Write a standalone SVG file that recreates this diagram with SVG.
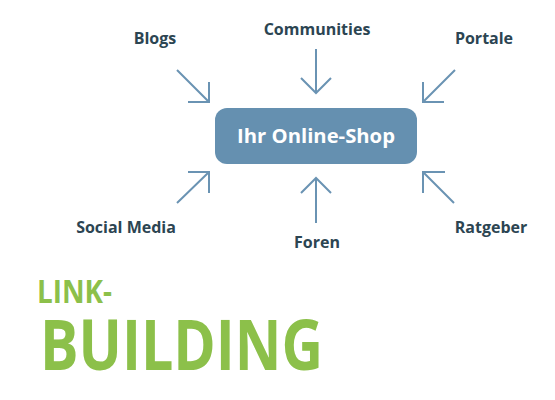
<svg xmlns="http://www.w3.org/2000/svg" width="555" height="400" viewBox="0 0 555 400">
<style>
.lbl{font-family:"Open Sans","Noto Sans",sans-serif;font-weight:700;font-size:16px;fill:#2c4552;text-anchor:middle}
.arr{fill:none;stroke:#6a93b3;stroke-width:2;stroke-linecap:butt;stroke-linejoin:miter}
.title{font-family:"Open Sans","Noto Sans",sans-serif;font-weight:700;fill:#8cc04a}
</style>
<rect width="555" height="400" fill="#ffffff"/>
<g id="shop">
<rect x="215" y="108" width="202" height="56" rx="12" ry="12" fill="#6590b0"/>
<text x="316" y="143" font-family="Open Sans,Noto Sans,sans-serif" font-weight="700" font-size="19" fill="#ffffff" text-anchor="middle" textLength="158" lengthAdjust="spacingAndGlyphs">Ihr Online-Shop</text>
</g>
<g id="blogs"><text class="lbl" x="155" y="44">Blogs</text></g>
<g id="communities"><text class="lbl" x="317" y="35">Communities</text></g>
<g id="portale"><text class="lbl" x="484" y="44">Portale</text></g>
<g id="socialmedia"><text class="lbl" x="126" y="233">Social Media</text></g>
<g id="foren"><text class="lbl" x="317" y="248">Foren</text></g>
<g id="ratgeber"><text class="lbl" x="491" y="233">Ratgeber</text></g>
<g id="connectors">
<path class="arr" d="M177,70 L209,102 M209,82 L209,102 L188,102"/>
<path class="arr" d="M316,49 L316,93 M301,78 L316,93 L331,78"/>
<path class="arr" d="M455,70 L423,102 M423,82 L423,102 L444,102"/>
<path class="arr" d="M177,203 L209,172 M188,172 L209,172 L209,193"/>
<path class="arr" d="M316,223 L316,178 M301,193 L316,178 L331,193"/>
<path class="arr" d="M454,203 L423,172 M445,172 L423,172 L423,193"/>
</g>
<g id="title">
<text class="title" x="37" y="303" font-size="32" textLength="75" lengthAdjust="spacingAndGlyphs">LINK-</text>
<text class="title" x="40" y="370" font-size="69" textLength="283" lengthAdjust="spacingAndGlyphs">BUILDING</text>
</g>
</svg>
